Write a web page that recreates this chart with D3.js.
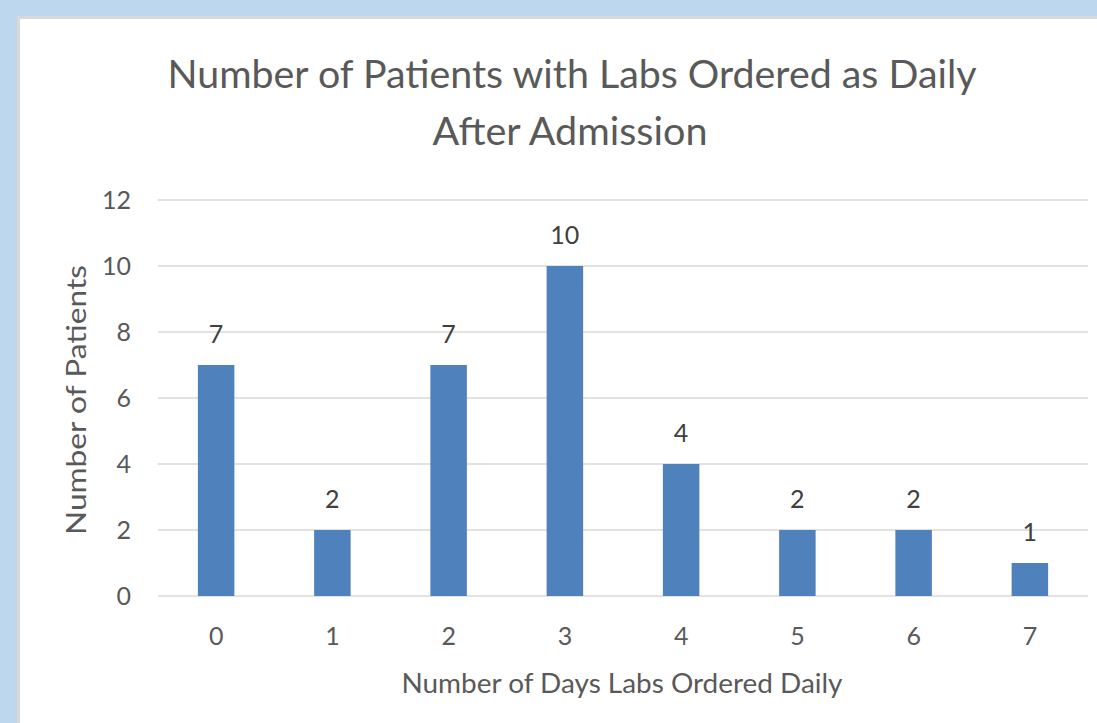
<!DOCTYPE html>
<html>
<head>
<meta charset="utf-8">
<script src="https://cdn.jsdelivr.net/npm/d3@7"></script>
<style>
  html, body { margin: 0; padding: 0; background: #bdd7ee; }
  svg { display: block; }
</style>
</head>
<body>
<svg id="chart"></svg>
<script>
// data
const days = ['0', '1', '2', '3', '4', '5', '6', '7'];
const patients = [7, 2, 7, 10, 4, 2, 2, 1];
const yTicks = [0, 2, 4, 6, 8, 10, 12];

const W = 1097, H = 723;
const svg = d3.select('#chart')
    .attr('width', W)
    .attr('height', H)
    .style('font-family', 'Lato, "Open Sans", sans-serif');

// chart frame on blue page
svg.append('rect')
    .attr('x', 17).attr('y', 16)
    .attr('width', W).attr('height', H)
    .attr('fill', '#d9d9d9');
svg.append('rect')
    .attr('x', 20).attr('y', 19)
    .attr('width', W).attr('height', H)
    .attr('fill', '#fff');

const plot = { left: 158, right: 1088, top: 200, bottom: 596 };

const x = d3.scaleBand()
    .domain(days)
    .range([plot.left, plot.right])
    .paddingInner(0.686)
    .paddingOuter(0.343);

const y = d3.scaleLinear()
    .domain([0, 12])
    .range([plot.bottom, plot.top]);

// gridlines
svg.append('g')
    .selectAll('line')
    .data(yTicks)
    .join('line')
    .attr('x1', plot.left)
    .attr('x2', plot.right)
    .attr('y1', d => y(d))
    .attr('y2', d => y(d))
    .attr('stroke', '#d9d9d9')
    .attr('stroke-width', 1.5);

// y axis labels
const yAxis = svg.append('g')
    .attr('transform', `translate(${plot.left - 27},0)`)
    .call(d3.axisLeft(y).tickValues(yTicks).tickSize(0).tickPadding(0));
yAxis.select('.domain').remove();
yAxis.selectAll('text')
    .attr('fill', '#595959')
    .style('font-size', '25px')
    .style('font-family', 'Lato, sans-serif');

// x axis labels
const xAxis = svg.append('g')
    .attr('transform', `translate(0,${plot.bottom})`)
    .call(d3.axisBottom(x).tickSize(0).tickPadding(31));
xAxis.select('.domain').remove();
xAxis.selectAll('text')
    .attr('fill', '#595959')
    .style('font-size', '25px')
    .style('font-family', 'Lato, sans-serif');

// bars
svg.append('g')
    .selectAll('rect')
    .data(patients)
    .join('rect')
    .attr('x', (d, i) => x(days[i]))
    .attr('y', d => y(d))
    .attr('width', x.bandwidth())
    .attr('height', d => y(0) - y(d))
    .attr('fill', '#4f81bd');

// data labels
svg.append('g')
    .selectAll('text')
    .data(patients)
    .join('text')
    .attr('x', (d, i) => x(days[i]) + x.bandwidth() / 2)
    .attr('y', d => y(d) - 22)
    .attr('text-anchor', 'middle')
    .attr('fill', '#404040')
    .style('font-size', '25px')
    .text(d => d);

// title
const title = svg.append('text')
    .attr('text-anchor', 'middle')
    .attr('fill', '#595959')
    .style('font-size', '38px');
title.append('tspan')
    .attr('x', 572).attr('y', 88)
    .attr('textLength', 809)
    .attr('lengthAdjust', 'spacingAndGlyphs')
    .text('Number of Patients with Labs Ordered as Daily');
title.append('tspan')
    .attr('x', 570).attr('y', 145)
    .attr('textLength', 275)
    .attr('lengthAdjust', 'spacingAndGlyphs')
    .text('After Admission');

// axis titles
svg.append('text')
    .attr('x', 622).attr('y', 693)
    .attr('text-anchor', 'middle')
    .attr('fill', '#595959')
    .style('font-size', '27px')
    .attr('textLength', 441)
    .attr('lengthAdjust', 'spacingAndGlyphs')
    .text('Number of Days Labs Ordered Daily');

svg.append('text')
    .attr('transform', 'translate(86,400) rotate(-90)')
    .attr('text-anchor', 'middle')
    .attr('fill', '#595959')
    .style('font-size', '26px')
    .attr('textLength', 270)
    .attr('lengthAdjust', 'spacingAndGlyphs')
    .text('Number of Patients');
</script>
</body>
</html>
